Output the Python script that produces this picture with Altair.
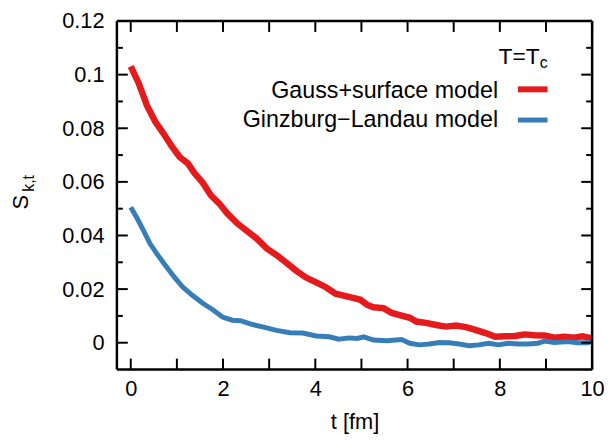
import altair as alt
import pandas as pd

# ---- data ----
t_gauss = [0.0, 0.17, 0.35, 0.53, 0.70, 0.88, 1.06, 1.24, 1.38, 1.56, 1.74, 1.92, 2.09, 2.31,
           2.52, 2.74, 2.95, 3.16, 3.38, 3.59, 3.80, 4.02, 4.23, 4.44, 4.66, 4.84, 4.98, 5.12,
           5.26, 5.48, 5.66, 5.83, 6.05, 6.19, 6.40, 6.62, 6.83, 7.05, 7.26, 7.40, 7.47, 7.69,
           7.90, 8.11, 8.33, 8.54, 8.75, 8.97, 9.18, 9.40, 9.61, 9.79, 10.0]
s_gauss = [0.1031, 0.0969, 0.0885, 0.0825, 0.0783, 0.0735, 0.0693, 0.0669, 0.0633, 0.0597,
           0.0549, 0.0519, 0.0483, 0.0445, 0.0417, 0.0387, 0.0351, 0.0327, 0.0297, 0.0268,
           0.0243, 0.0225, 0.0207, 0.0183, 0.0174, 0.0166, 0.0160, 0.0142, 0.0132, 0.0129,
           0.0111, 0.0103, 0.0093, 0.0079, 0.0074, 0.0066, 0.0060, 0.0064, 0.0058, 0.0052,
           0.0048, 0.0036, 0.0022, 0.0024, 0.0025, 0.0031, 0.0028, 0.0027, 0.0019, 0.0022,
           0.0019, 0.0024, 0.0016]
t_gl = [0.0, 0.135, 0.28, 0.42, 0.56, 0.74, 0.92, 1.13, 1.35, 1.56, 1.77, 1.99, 2.20, 2.38,
        2.59, 2.88, 3.16, 3.45, 3.73, 4.02, 4.30, 4.51, 4.73, 4.91, 5.05, 5.26, 5.55, 5.87,
        6.05, 6.26, 6.47, 6.69, 6.90, 7.12, 7.33, 7.54, 7.76, 7.97, 8.18, 8.40, 8.61, 8.82,
        8.97, 9.18, 9.47, 9.68, 9.89, 10.0]
s_gl = [0.0505, 0.0465, 0.0417, 0.0369, 0.0333, 0.0291, 0.0250, 0.0207, 0.0175, 0.0147,
        0.0124, 0.0096, 0.0084, 0.0082, 0.0070, 0.0058, 0.0046, 0.0037, 0.0036, 0.0025,
        0.0022, 0.0013, 0.0018, 0.0016, 0.0022, 0.0010, 0.0007, 0.0012, -0.0002, -0.0008,
        -0.0005, 0.0001, 0.0000, -0.0005, -0.0011, -0.0008, -0.0002, -0.0008, -0.0002,
        -0.0005, -0.0005, -0.0002, 0.0006, 0.0001, 0.0004, 0.0000, 0.0000, 0.0004]

series_names = ["Gauss+surface model", "Ginzburg\u2212Landau model"]
series_colors = ["#e41a1c", "#377eb8"]
legend_title = ["T=T", "c"]
y_title = ["S", "k,t"]
x_title = "t [fm]"

x_ticks = list(range(0, 11))
x_labels = [0, 2, 4, 6, 8, 10]
y_major = [0, 0.02, 0.04, 0.06, 0.08, 0.1, 0.12]
y_minor = [0.01, 0.03, 0.05, 0.07, 0.09, 0.11]

# ---- layout ----
TOP = 11
W, H = 480, 352
FONT = "Liberation Sans"
LBL = 22
xs = alt.Scale(domain=[-0.3, 10], nice=False, zero=False)
ys = alt.Scale(domain=[-0.01, 0.12], nice=False, zero=False)

df_g = pd.DataFrame({"t": t_gauss, "s": s_gauss})
df_l = pd.DataFrame({"t": t_gl, "s": s_gl})

x_axis = alt.Axis(values=x_labels, format="d", ticks=False, domain=False, grid=False,
                  labelFont=FONT, labelFontSize=LBL, labelPadding=9, labelColor="black",
                  labelFlush=False, labelOverlap=False,
                  title=x_title, titleFont=FONT, titleFontSize=LBL, titleFontWeight="normal",
                  titleColor="black", titlePadding=13)
y_axis = alt.Axis(values=y_major, labelExpr="format(datum.value, '.2~f')",
                  ticks=False, domain=False, grid=False,
                  labelFont=FONT, labelFontSize=LBL, labelPadding=13, labelColor="black",
                  labelFlush=False, labelOverlap=False, labelBound=False,
                  title="")

X = lambda f: alt.X(f, scale=xs, axis=x_axis)
Y = lambda f: alt.Y(f, scale=ys, axis=y_axis)

red = alt.Chart(df_g).mark_line(color=series_colors[0], strokeWidth=6.5).encode(
    x=X("t:Q"), y=Y("s:Q"))
blue = alt.Chart(df_l).mark_line(color=series_colors[1], strokeWidth=5).encode(
    x=X("t:Q"), y=Y("s:Q"))


def yticks(vals, length):
    d = pd.DataFrame({"v": vals})
    left = alt.Chart(d).mark_rule(color="black", strokeWidth=2).encode(
        y=Y("v:Q"), x=alt.value(0), x2=alt.value(length))
    right = alt.Chart(d).mark_rule(color="black", strokeWidth=2).encode(
        y=Y("v:Q"), x=alt.value(W), x2=alt.value(W - length))
    return [left, right]


def xticks(vals, length):
    d = pd.DataFrame({"v": vals})
    bottom = alt.Chart(d).mark_rule(color="black", strokeWidth=2).encode(
        x=X("v:Q"), y=alt.value(H), y2=alt.value(H - length))
    top = alt.Chart(d).mark_rule(color="black", strokeWidth=2).encode(
        x=X("v:Q"), y=alt.value(0), y2=alt.value(length))
    return [bottom, top]


tick_layers = yticks(y_major, 11) + yticks(y_minor, 6) + xticks(x_ticks, 11)

frame_df = pd.DataFrame({"f": [1]})
frame_layers = [
    alt.Chart(frame_df).mark_rule(color="black", strokeWidth=2.5).encode(
        x=alt.value(0), y=alt.value(0), y2=alt.value(H)),
    alt.Chart(frame_df).mark_rule(color="black", strokeWidth=2.5).encode(
        x=alt.value(W), y=alt.value(0), y2=alt.value(H)),
    alt.Chart(frame_df).mark_rule(color="black", strokeWidth=2.5).encode(
        y=alt.value(0), x=alt.value(0), x2=alt.value(W)),
    alt.Chart(frame_df).mark_rule(color="black", strokeWidth=2.5).encode(
        y=alt.value(H), x=alt.value(0), x2=alt.value(W)),
]


def text(label, x, y, size, align="left", angle=0, baseline="alphabetic"):
    return alt.Chart(pd.DataFrame({"label": [label]})).mark_text(
        font=FONT, fontSize=size, align=align, baseline=baseline, angle=angle, color="black"
    ).encode(text="label:N", x=alt.value(x), y=alt.value(y))


def legend_line(color, y, width):
    return alt.Chart(pd.DataFrame({"c": [color]})).mark_rule(color=color, strokeWidth=width).encode(
        x=alt.value(405), x2=alt.value(435), y=alt.value(y))


# page y minus plot-origin y (8 + TOP)
oy = 8 + TOP
legend_layers = [
    text(legend_title[0], 427, 62 - oy, 23, align="right"),
    text(legend_title[1], 427, 66 - oy, 16, align="left"),
    text(series_names[0], 385, 97 - oy, 23.5, align="right"),
    text(series_names[1], 385, 126 - oy, 23.5, align="right"),
    legend_line(series_colors[0], 88 - oy, 6),
    legend_line(series_colors[1], 119 - oy, 5),
]

ytitle_layers = [
    text(y_title[0], -97, 202 - oy, 22, align="center", angle=270, baseline="middle"),
    text(y_title[1], -89, 183 - oy, 16, align="center", angle=270, baseline="middle"),
]

chart = alt.layer(red, blue, *tick_layers, *frame_layers, *legend_layers, *ytitle_layers).properties(
    width=W, height=H,
    autosize=alt.AutoSizeParams(type="none"),
    padding={"left": 110, "top": TOP, "right": 12, "bottom": 66},
).configure_view(stroke=None).configure(background="white")

chart.save("out.html", embed_options={"renderer": "svg", "actions": False})
